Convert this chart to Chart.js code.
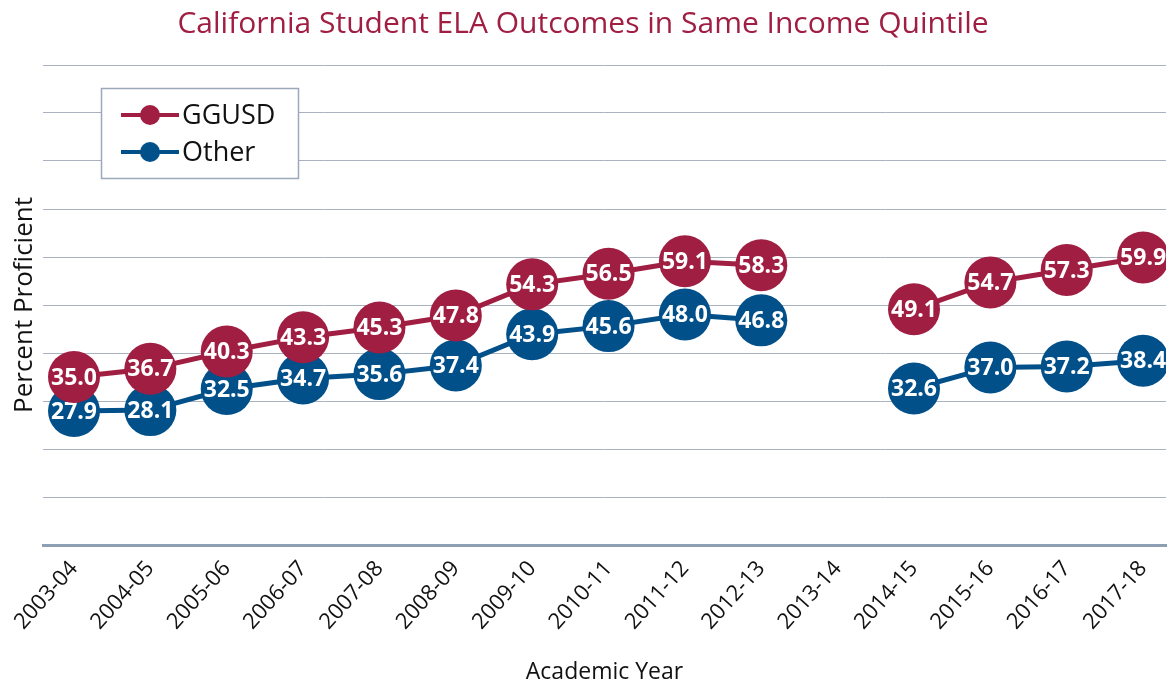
<!DOCTYPE html>
<html>
<head>
<meta charset="utf-8">
<script src="https://cdn.jsdelivr.net/npm/chart.js@4.4.1/dist/chart.umd.min.js"></script>
<style>
  html,body{margin:0;padding:0;background:#fff;}
  #wrap{width:1171px;height:686px;position:relative;}
</style>
</head>
<body>
<div id="wrap"><canvas id="chart-ela"></canvas></div>
<script>
/* data */
var years=['2003-04','2004-05','2005-06','2006-07','2007-08','2008-09','2009-10','2010-11','2011-12','2012-13','2013-14','2014-15','2015-16','2016-17','2017-18'];
var ggusd=[35.0,36.7,40.3,43.3,45.3,47.8,54.3,56.5,59.1,58.3,null,49.1,54.7,57.3,59.9];
var other=[27.9,28.1,32.5,34.7,35.6,37.4,43.9,45.6,48.0,46.8,null,32.6,37.0,37.2,38.4];

var RED='#a01e42',BLUE='#02508a',GRID='#a9b3c0';
var FONT='"Open Sans"';

function toXY(arr){return arr.map(function(v,i){return {x:i,y:v};});}
function noPad(){return {left:0,top:0,right:0,bottom:0};}

/* labels inside the markers */
var valueLabels={
  id:'valueLabels',
  afterDatasetDraw:function(chart,args){
    var ctx=chart.ctx,meta=args.meta,ds=chart.data.datasets[args.index];
    ctx.save();
    ctx.fillStyle='#fff';
    ctx.font='bold 23px '+FONT;
    ctx.textAlign='center';ctx.textBaseline='middle';
    meta.data.forEach(function(pt,i){
      var v=ds.data[i].y;
      if(v==null) return;
      ctx.fillText(v.toFixed(1),pt.x,pt.y+1);
    });
    ctx.restore();
  }
};

/* boxed legend with line + dot */
var boxLegend={
  id:'boxLegend',
  afterDraw:function(chart){
    var ctx=chart.ctx,x=101,y=88,w=197,h=90;
    ctx.save();
    ctx.fillStyle='#fff';ctx.fillRect(x,y,w,h);
    ctx.strokeStyle='#9aa8b8';ctx.lineWidth=1.5;ctx.strokeRect(x+0.5,y+0.5,w,h);
    chart.data.datasets.forEach(function(ds,i){
      var cy=y+27+i*37;
      ctx.strokeStyle=ds.borderColor;ctx.lineWidth=4;
      ctx.beginPath();ctx.moveTo(x+20,cy);ctx.lineTo(x+78,cy);ctx.stroke();
      ctx.fillStyle=ds.borderColor;
      ctx.beginPath();ctx.arc(x+49,cy,10,0,Math.PI*2);ctx.fill();
      ctx.fillStyle='#111';ctx.font='27px '+FONT;ctx.textAlign='left';ctx.textBaseline='middle';
      ctx.fillText(ds.label,x+81,cy+1);
    });
    ctx.restore();
  }
};

new Chart(document.getElementById('chart-ela'),{
  type:'line',
  data:{datasets:[
    {label:'GGUSD',data:toXY(ggusd),borderColor:RED,backgroundColor:RED,borderWidth:5,pointRadius:26,pointHoverRadius:26,pointBorderWidth:0,spanGaps:false},
    {label:'Other',data:toXY(other),borderColor:BLUE,backgroundColor:BLUE,borderWidth:5,pointRadius:26,pointHoverRadius:26,pointBorderWidth:0,spanGaps:false}
  ]},
  options:{
    responsive:true,maintainAspectRatio:false,animation:false,
    layout:{autoPadding:false,padding:{left:0,right:5,bottom:0,top:0}},
    plugins:{
      legend:{display:false},tooltip:{enabled:false},
      title:{display:true,text:'California Student ELA Outcomes in Same Income Quintile',color:RED,font:{family:FONT,size:30,weight:'normal'},padding:{top:6,bottom:23}}
    },
    scales:{
      x:{type:'linear',min:-0.406,max:14.3,
        afterBuildTicks:function(s){s.ticks=years.map(function(_,i){return {value:i};});},
        afterFit:function(s){s.height=141;s.paddingLeft=0;s.paddingRight=0;s.getPadding=noPad;},
        grid:{display:false},
        border:{color:'#8e9fb3',width:3},
        ticks:{autoSkip:false,maxRotation:48,minRotation:48,color:'#111',font:{family:FONT,size:22},padding:3,
          callback:function(v){return years[v];}},
        title:{display:true,text:'Academic Year',color:'#111',font:{family:FONT,size:23},padding:{top:4,bottom:0}}
      },
      y:{min:0,max:100,
        afterFit:function(s){s.width=43;},
        ticks:{display:false,stepSize:10},
        grid:{color:GRID,lineWidth:1,drawTicks:false},
        border:{display:false},
        title:{display:true,text:'Percent Proficient',color:'#111',font:{family:FONT,size:26},padding:{top:9,bottom:0}}
      }
    }
  },
  plugins:[valueLabels,boxLegend]
});
</script>
</body>
</html>
